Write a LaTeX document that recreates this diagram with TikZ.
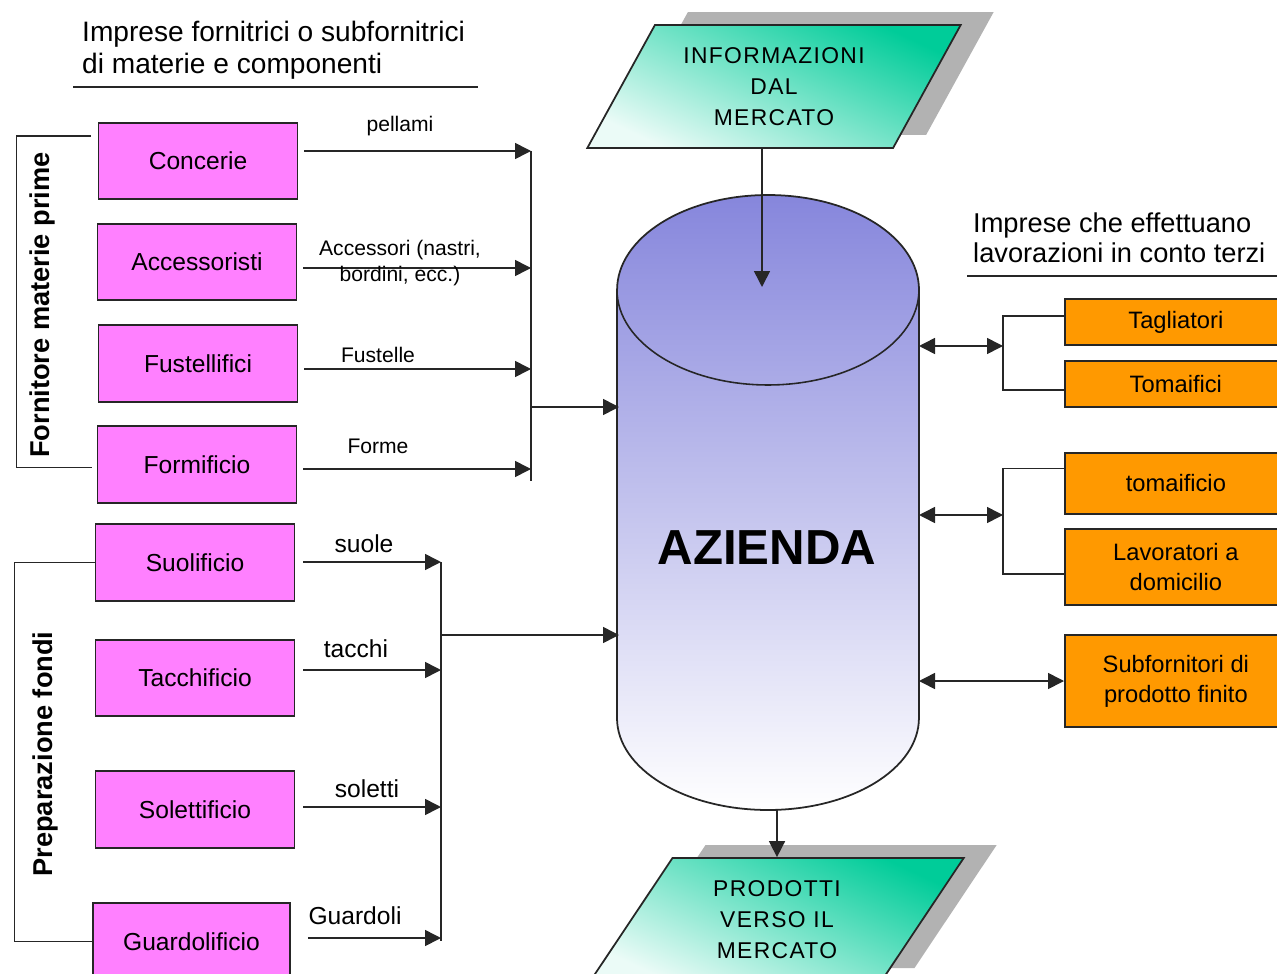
\documentclass[tikz,border=0pt]{standalone}
\usepackage{xcolor}
\definecolor{colSupp}{RGB}{255,128,255}
\definecolor{colTerzi}{RGB}{255,153,0}
\definecolor{colMerc}{RGB}{0,204,153}
\definecolor{colAz}{RGB}{134,134,220}
\colorlet{colLine}{black!85}
\usepackage{fontspec}
\setmainfont{Liberation Sans}
\newfontfamily\spacedfont[LetterSpace=6]{Liberation Sans}
\usepackage{tikz}
\usetikzlibrary{arrows.meta, positioning, calc, shapes.geometric, shadows}

\begin{document}
\begin{tikzpicture}[x=0.02cm, y=-0.02cm,
		supp/.style={draw=colLine, line width=1pt, fill=colSupp, minimum width=3.98cm, minimum height=1.53cm, font=\fontsize{14}{16}\selectfont},
		terzi/.style={draw=colLine, line width=1pt, fill=colTerzi, minimum width=4.44cm, anchor=west, align=center, font=\fontsize{13.5}{17}\selectfont},
		flow/.style={line width=0.9pt, colLine, -{Triangle[length=0.32cm, width=0.32cm]}},
		both/.style={line width=0.9pt, colLine, {Triangle[length=0.32cm, width=0.32cm]}-{Triangle[length=0.32cm, width=0.32cm]}},
		link/.style={line width=0.9pt, colLine},
		lbl/.style={font=\fontsize{12}{15.3}\selectfont, align=center},
		big/.style={font=\fontsize{14}{16}\selectfont},
		merc/.style={trapezium, trapezium left angle=58.6, trapezium right angle=121.4, trapezium stretches=true,
			minimum width=7.48cm, minimum height=2.46cm, draw=colLine, line width=1pt,
			top color=colMerc, middle color=colMerc!85, bottom color=colMerc!8, shading angle=-25,
			align=center, font=\spacedfont\fontsize{13}{17.6}\selectfont,
			drop shadow={shadow xshift=0.66cm, shadow yshift=0.26cm, fill=gray!60, opacity=1}},
		head/.style={anchor=west, align=left, font=\fontsize{16}{18}\selectfont},
		side/.style={rotate=90, font=\bfseries\fontsize{15.5}{18}\selectfont}]
	\useasboundingbox (0,0) rectangle (1277,973);
	\clip (0,0) rectangle (1277,973);

	% headers
	\node[head] (hsupp) at (76,50) {Imprese fornitrici o subfornitrici\\di materie e componenti};
	\draw[link] (73,87) -- (478,87);
	\node[head, font=\fontsize{15.5}{17}\selectfont] (hterzi) at (967,238) {Imprese che effettuano\\lavorazioni in conto terzi};
	\draw[link] (967,276) -- (1277,276);

	% azienda
	\shade[top color=colAz, middle color=colAz!35, bottom color=white, draw=colLine, line width=1pt]
		(617,290) -- (617,718) arc[start angle=180, end angle=360, x radius=3.02cm, y radius=1.84cm]
		-- (919,290) arc[start angle=0, end angle=180, x radius=3.02cm, y radius=1.9cm] -- cycle;
	\draw[link] (617,290) arc[start angle=180, end angle=360, x radius=3.02cm, y radius=1.9cm];
	\node[font=\bfseries\fontsize{28}{30}\selectfont] (azienda) at (767,548) {AZIENDA};

	% mercato
	\node[merc] (info) at (774,86.5) {INFORMAZIONI\\DAL\\MERCATO};
	\node[merc] (prod) at (777,919.5) {PRODOTTI\\VERSO IL\\MERCATO};
	\coordinate (cyltop) at (762,287);
	\coordinate (cylbot) at (777,810);
	\draw[flow] ([xshift=-0.24cm]info.south) -- (cyltop);
	\draw[flow] (cylbot) -- (prod.north);

	% fornitori materie prime
	\node[supp] (concerie) at (198,161) {Concerie};
	\node[supp] (accessoristi) at (197,262) {Accessoristi};
	\node[supp] (fustellifici) at (198,363.5) {Fustellifici};
	\node[supp] (formificio) at (197,464.5) {Formificio};
	\node[side] (fmp) at (42,305) {Fornitore materie prime};
	\draw[link] ($(concerie.west)+(-7,-25)$) -- ++(-74,0) |- ($(formificio.west)+(-5,3)$);

	\coordinate (ba1) at (531,151);
	\coordinate (ba2) at (531,268);
	\coordinate (ba3) at (531,369);
	\coordinate (ba4) at (531,469);
	\coordinate (baend) at (531,481);
	\coordinate (ba0) at (531,407);
	\coordinate (cylA) at (619,407);
	\draw[flow] ($(concerie.east |- ba1)+(6,0)$) -- (ba1);
	\draw[flow] ($(accessoristi.east |- ba2)+(6,0)$) -- (ba2);
	\draw[flow] ($(fustellifici.east |- ba3)+(6,0)$) -- (ba3);
	\draw[flow] ($(formificio.east |- ba4)+(6,0)$) -- (ba4);
	\draw[link] (ba1) -- (baend);
	\draw[flow] (ba0) -- (cylA);
	\node[lbl] (lpellami) at (400,126) {pellami};
	\node[lbl] (lacc) at (400,263) {Accessori (nastri,\\bordini, ecc.)};
	\node[lbl] (lfust) at (378,355) {Fustelle};
	\node[lbl] (lforme) at (378,446) {Forme};

	% preparazione fondi
	\node[supp] (suolificio) at (195,562.5) {Suolificio};
	\node[supp] (tacchificio) at (195,678) {Tacchificio};
	\node[supp] (solettificio) at (195,809.5) {Solettificio};
	\node[supp, minimum width=3.94cm] (guardolificio) at (191.5,941.5) {Guardolificio};
	\node[side] (pf) at (45,754) {Preparazione fondi};
	\draw[link] (suolificio.west) -- ++(-80,0) |- (guardolificio.west);

	\coordinate (bb1) at (441,562);
	\coordinate (bb2) at (441,670);
	\coordinate (bb3) at (441,807);
	\coordinate (bb4) at (441,938);
	\coordinate (bbend) at (441,941);
	\coordinate (bb0) at (441,635);
	\coordinate (cylB) at (619,635);
	\draw[flow] ($(suolificio.east |- bb1)+(8,0)$) -- (bb1);
	\draw[flow] ($(tacchificio.east |- bb2)+(8,0)$) -- (bb2);
	\draw[flow] ($(solettificio.east |- bb3)+(8,0)$) -- (bb3);
	\draw[flow] ($(guardolificio.east |- bb4)+(17,0)$) -- (bb4);
	\draw[link] (bb1) -- (bbend);
	\draw[flow] (bb0) -- (cylB);
	\node[lbl, big] (lsuole) at (364,544) {suole};
	\node[lbl, big] (ltacchi) at (356,649) {tacchi};
	\node[lbl, big] (lsoletti) at (367,789) {soletti};
	\node[lbl, big] (lguardoli) at (355,916) {Guardoli};

	% lavorazioni in conto terzi
	\node[terzi, minimum height=0.92cm] (tagliatori) at (1064,322) {Tagliatori};
	\node[terzi, minimum height=0.92cm] (tomaifici) at (1064,384) {Tomaifici};
	\node[terzi, minimum height=1.22cm] (tomaificio) at (1064,483.5) {tomaificio};
	\node[terzi, minimum height=1.52cm] (lavoratori) at (1064,567) {Lavoratori a\\domicilio};
	\node[terzi, minimum height=1.84cm] (subforn) at (1064,681) {Subfornitori di\\prodotto finito};

	\coordinate (cr1) at (919,346);
	\coordinate (j1) at (1003,346);
	\coordinate (cr2) at (919,515);
	\coordinate (j2) at (1003,515);
	\coordinate (cr3) at (919,681);
	\draw[both] (cr1) -- (j1);
	\draw[link] ($(tagliatori.west)+(0,-6)$) -| (j1) |- ($(tomaifici.west)+(0,6)$);
	\draw[both] (cr2) -- (j2);
	\draw[link] ($(tomaificio.west)+(0,-15)$) -| (j2) |- ($(lavoratori.west)+(0,7)$);
	\draw[both] (cr3) -- (subforn.west);
\end{tikzpicture}
\end{document}
